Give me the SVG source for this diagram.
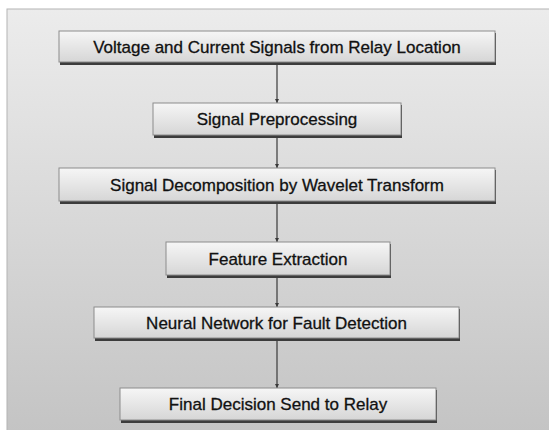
<svg xmlns="http://www.w3.org/2000/svg" width="549" height="430" viewBox="0 0 549 430">
  <defs>
    <linearGradient id="panelGrad" x1="0" y1="0" x2="0" y2="1">
      <stop offset="0" stop-color="#ececec"/>
      <stop offset="1" stop-color="#c4c4c4"/>
    </linearGradient>
    <linearGradient id="boxGrad" x1="0" y1="0" x2="0" y2="1">
      <stop offset="0" stop-color="#f6f6f6"/>
      <stop offset="1" stop-color="#d6d6d6"/>
    </linearGradient>
    <marker id="arrow" viewBox="0 0 6 6" refX="6" refY="3" markerWidth="4" markerHeight="4" orient="auto" markerUnits="userSpaceOnUse">
      <path d="M0,0 L6,3 L0,6 Z" fill="#3a3a3a"/>
    </marker>
  </defs>
  <style>
    .shadow { fill: #3c3c3c; }
    .box { fill: url(#boxGrad); stroke: #8c8c8c; stroke-width: 1; }
    .label { font-family: "Liberation Sans", Arial, sans-serif; font-size: 17px; fill: #111; stroke: #111; stroke-width: 0.3; text-anchor: middle; }
    .edge { stroke: #3a3a3a; stroke-width: 1.2; fill: none; marker-end: url(#arrow); }
  </style>

  <rect x="0" y="0" width="549" height="430" fill="#ffffff"/>
  <!-- background panel -->
  <rect x="7" y="9" width="543" height="422" fill="url(#panelGrad)" stroke="#b4b4b4" stroke-width="1"/>

  <g id="connectors">
    <line class="edge" x1="277" y1="64" x2="277" y2="103"/>
    <line class="edge" x1="277" y1="138" x2="277" y2="168"/>
    <line class="edge" x1="277" y1="204" x2="277" y2="242"/>
    <line class="edge" x1="277" y1="278" x2="277" y2="307"/>
    <line class="edge" x1="277" y1="341" x2="277" y2="388"/>
  </g>

  <g id="node-input">
    <rect class="shadow" x="60" y="33" width="436" height="32"/>
    <rect class="box" x="59" y="31" width="436" height="31"/>
    <text class="label" x="277" y="53">Voltage and Current Signals from Relay Location</text>
  </g>

  <g id="node-preprocessing">
    <rect class="shadow" x="154" y="105" width="248" height="33"/>
    <rect class="box" x="153" y="103" width="248" height="32"/>
    <text class="label" x="277" y="125">Signal Preprocessing</text>
  </g>

  <g id="node-decomposition">
    <rect class="shadow" x="60" y="170" width="436" height="34"/>
    <rect class="box" x="59" y="168" width="436" height="33"/>
    <text class="label" x="277" y="191">Signal Decomposition by Wavelet Transform</text>
  </g>

  <g id="node-features">
    <rect class="shadow" x="167" y="244" width="224" height="34"/>
    <rect class="box" x="166" y="242" width="224" height="33"/>
    <text class="label" x="278" y="265">Feature Extraction</text>
  </g>

  <g id="node-network">
    <rect class="shadow" x="95" y="309" width="365" height="32"/>
    <rect class="box" x="94" y="307" width="365" height="31"/>
    <text class="label" x="276.5" y="329">Neural Network for Fault Detection</text>
  </g>

  <g id="node-decision">
    <rect class="shadow" x="121" y="390" width="316" height="33"/>
    <rect class="box" x="120" y="388" width="316" height="32"/>
    <text class="label" x="278" y="410">Final Decision Send to Relay</text>
  </g>
</svg>
